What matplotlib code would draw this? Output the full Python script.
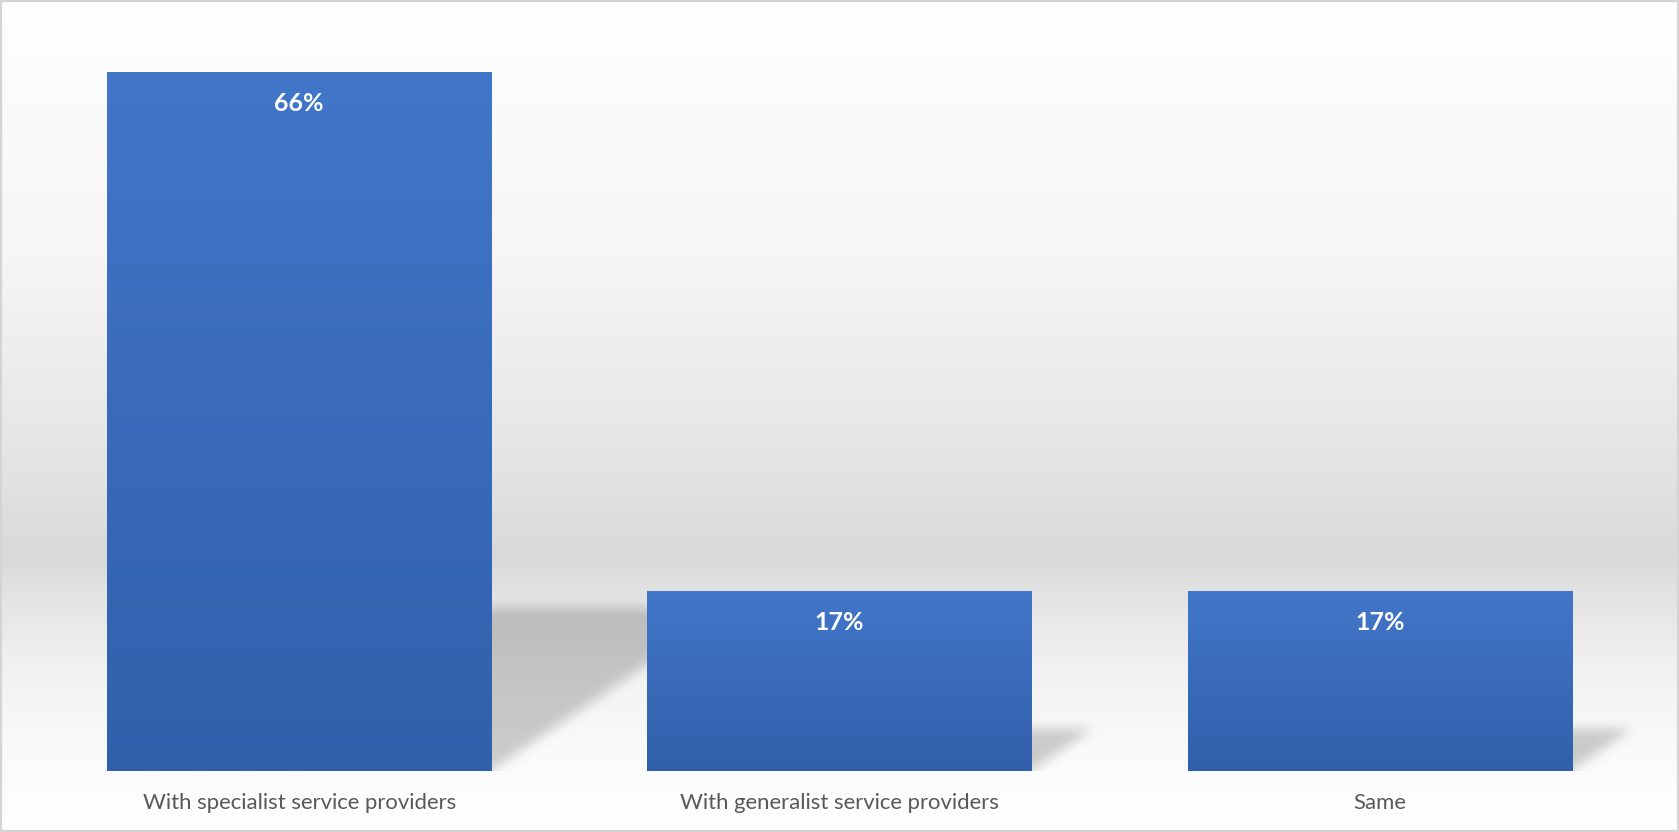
import numpy as np
import matplotlib
matplotlib.use("Agg")
import matplotlib.pyplot as plt
from matplotlib.path import Path
from matplotlib.patches import Rectangle

# ---- data ----
categories = ["With specialist service providers", "With generalist service providers", "Same"]
values = [66, 17, 17]
value_labels = ["66%", "17%", "17%"]

W, H, DPI = 1679, 832, 100
fig = plt.figure(figsize=(W / DPI, H / DPI), dpi=DPI)

# ---- background gradient (full figure) ----
bg = fig.add_axes([0, 0, 1, 1], zorder=-10)
bg.set_axis_off()
stops_f = [0.0, 0.12, 0.30, 0.45, 0.57, 0.67, 0.72, 0.80, 0.90, 1.0]
stops_g = [255, 251, 246, 236, 227, 217, 228, 241, 250, 255]
yy = np.linspace(0, 1, H)
g = np.interp(yy, stops_f, stops_g) / 255.0
bgimg = np.repeat(g[:, None], 2, axis=1)
bg.imshow(np.dstack([bgimg] * 3), aspect="auto", extent=[0, 1, 1, 0], interpolation="bilinear")
bg.set_xlim(0, 1)
bg.set_ylim(1, 0)

# ---- main axes ----
ax_left, ax_right, ax_top, ax_bottom = 29, 1650, 30, 771
ax = fig.add_axes([ax_left / W, (H - ax_bottom) / H, (ax_right - ax_left) / W, (ax_bottom - ax_top) / H])
ax.patch.set_alpha(0)
x = np.arange(len(categories))
bar_w = 0.711
bars = ax.bar(x, values, width=bar_w, color="#3A6BBA", zorder=3)
ax.set_xlim(-0.5, len(categories) - 0.5)
ax.set_ylim(0, 70)
for s in ax.spines.values():
    s.set_visible(False)
ax.set_yticks([])
ax.set_xticks(x)
ax.set_xticklabels(categories, fontsize=15.9, color="#595959", family="Lato")
ax.tick_params(axis="x", length=0, pad=16)

# ---- gradient fill for each bar ----
top_c = np.array([0x42, 0x76, 0xC8]) / 255.0
bot_c = np.array([0x31, 0x60, 0xAB]) / 255.0
grad = np.linspace(0, 1, 256)[:, None]
gimg = (top_c[None, None, :] * (1 - grad[:, :, None]) + bot_c[None, None, :] * grad[:, :, None])
for b in bars:
    x0, y0, bw, bh = b.get_x(), b.get_y(), b.get_width(), b.get_height()
    ax.imshow(gimg, extent=[x0, x0 + bw, y0, y0 + bh], origin="upper", aspect="auto",
              zorder=3.5, interpolation="bilinear")
ax.set_xlim(-0.5, len(categories) - 0.5)
ax.set_ylim(0, 70)

# ---- cast shadows (derived from bars) ----
fig.canvas.draw()
bbox = ax.get_window_extent()
nx, ny = int(round(bbox.width)), int(round(bbox.height))
xs = np.linspace(-0.5, len(categories) - 0.5, nx)
ys = np.linspace(70, 0, ny)
XX, YY = np.meshgrid(xs, ys)
pts = np.column_stack([XX.ravel(), YY.ravel()])
mask = np.zeros(nx * ny, dtype=float)
px_per_x = nx / len(categories)
px_per_y = ny / 70.0
k_h = 0.233
slope = 1.46
for b in bars:
    x0, bw, bh = b.get_x(), b.get_width(), b.get_height()
    th = bh * k_h
    shift = th * px_per_y * slope / px_per_x
    poly = Path([(x0, 0), (x0 + bw, 0), (x0 + bw + shift, th), (x0 + shift, th), (x0, 0)])
    mask = np.maximum(mask, poly.contains_points(pts).astype(float))
mask = mask.reshape(ny, nx)


def box_blur(a, r, axis):
    pad = [(0, 0), (0, 0)]
    pad[axis] = (r + 1, r)
    ap = np.pad(a, pad, mode="edge")
    c = np.cumsum(ap, axis=axis)
    if axis == 0:
        return (c[2 * r + 1:, :] - c[:-2 * r - 1, :]) / (2 * r + 1)
    return (c[:, 2 * r + 1:] - c[:, :-2 * r - 1]) / (2 * r + 1)


for _ in range(3):
    mask = box_blur(mask, 5, 0)
    mask = box_blur(mask, 5, 1)
shadow = np.zeros((ny, nx, 4))
shadow[..., 3] = mask * 0.19
ax.imshow(shadow, extent=[-0.5, len(categories) - 0.5, 0, 70], origin="upper", aspect="auto",
          zorder=1, interpolation="bilinear")
ax.set_xlim(-0.5, len(categories) - 0.5)
ax.set_ylim(0, 70)

# ---- value labels ----
for b, lab in zip(bars, value_labels):
    ax.annotate(lab, (b.get_x() + b.get_width() / 2, b.get_height()), xytext=(0, -22.5),
                textcoords="offset points", ha="center", va="center", color="white",
                fontsize=18, fontweight="bold", family="Lato", zorder=5)

# ---- border ----
fig.patches.append(Rectangle((0.0005, 0.0008), 0.999, 0.9975, transform=fig.transFigure,
                             fill=False, edgecolor="#d4d4d4", lw=1.6, zorder=20))

fig.savefig("out.png", dpi=DPI)
